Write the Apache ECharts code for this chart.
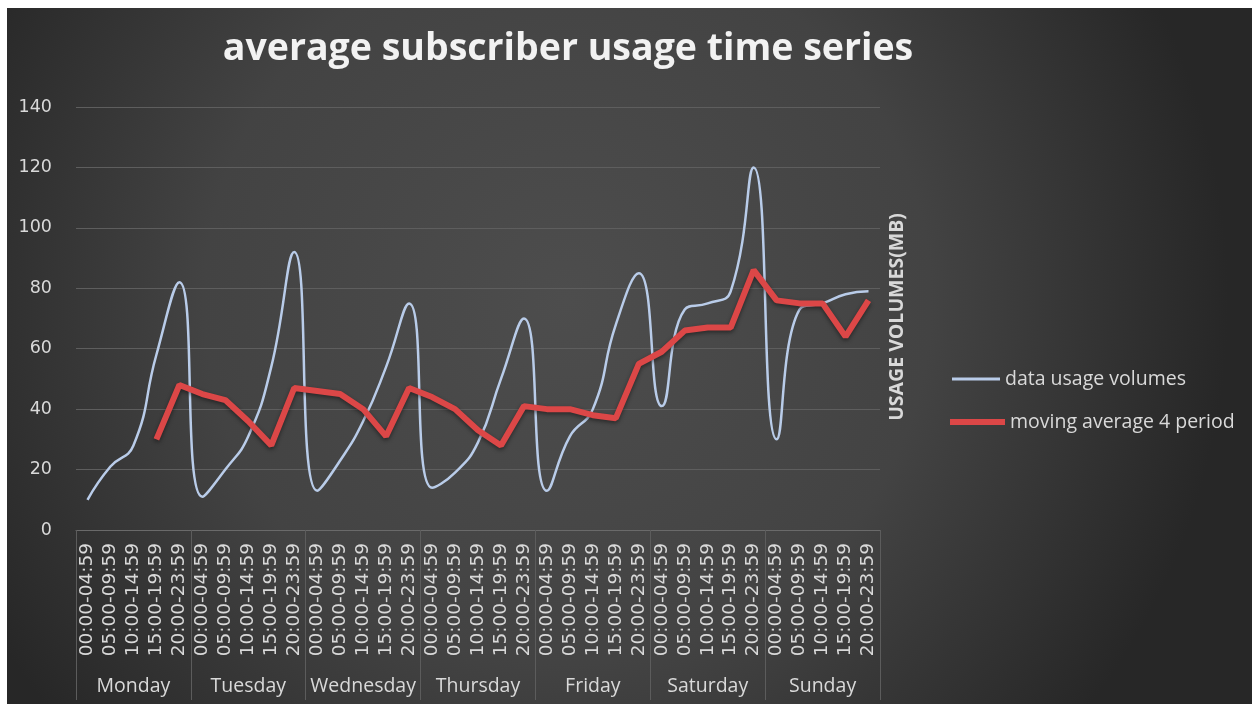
<!DOCTYPE html>
<html>
<head>
<meta charset="utf-8">
<title>average subscriber usage time series</title>
<script src="https://cdn.jsdelivr.net/npm/echarts@6/dist/echarts.min.js"></script>
<style>
  html, body { margin: 0; padding: 0; background: #ffffff; }
  #chart { position: absolute; left: 7px; top: 8px; width: 1245px; height: 696px; }
</style>
</head>
<body>
<div id="chart"></div>
<script>
// Time slots within each day and the days of the week
const timeSlots = ['00:00-04:59', '05:00-09:59', '10:00-14:59', '15:00-19:59', '20:00-23:59'];
const days = ['Monday', 'Tuesday', 'Wednesday', 'Thursday', 'Friday', 'Saturday', 'Sunday'];

// Average data usage per slot (MB)
const usageVolumes = [
  10, 21, 28, 58, 82,
  11, 20, 31, 54, 92,
  13, 23, 36, 54, 75,
  14, 19, 29, 50, 70,
  13, 31, 40, 68, 85,
  41, 73, 75, 79, 120,
  30, 73, 75, 78, 79
];

// 4-period moving average (MB), first three slots have no value
const movingAverage = [
  null, null, null, 30, 48,
  45, 43, 36, 28, 47,
  46, 45, 40, 31, 47,
  44, 40, 33, 28, 41,
  40, 40, 38, 37, 55,
  59, 66, 67, 67, 86,
  76, 75, 75, 64, 76
];

const yTicks = { min: 0, max: 140, step: 20 };

// One category per slot across the week
const slotCategories = [];
days.forEach(function () {
  timeSlots.forEach(function (t) { slotCategories.push(t); });
});

const labelColor = '#d9d9d9';
const chart = echarts.init(document.getElementById('chart'), null, { renderer: 'canvas' });

chart.setOption({
  animation: false,
  backgroundColor: new echarts.graphic.RadialGradient(0.45, 0.42, 0.95, [
    { offset: 0, color: '#4d4d4d' },
    { offset: 0.55, color: '#434343' },
    { offset: 1, color: '#272727' }
  ]),
  graphic: [
    {
      type: 'text',
      x: 561,
      y: 41,
      style: {
        text: 'average subscriber usage time series',
        fontFamily: 'Open Sans',
        fontWeight: 'bold',
        fontSize: 37.5,
        fill: '#f2f2f2',
        align: 'center',
        verticalAlign: 'middle',
        shadowColor: 'rgba(0,0,0,0.75)',
        shadowBlur: 4,
        shadowOffsetX: 1,
        shadowOffsetY: 3
      }
    },
    {
      type: 'text',
      x: 890,
      y: 309,
      rotation: Math.PI / 2,
      style: {
        text: 'USAGE VOLUMES(MB)',
        fontFamily: 'Open Sans',
        fontWeight: 'bold',
        fontSize: 19.5,
        fill: labelColor,
        align: 'center',
        verticalAlign: 'middle'
      }
    }
  ],
  legend: [
    {
      data: ['data usage volumes'],
      left: 940,
      top: 356,
      orient: 'vertical',
      icon: 'rect',
      itemWidth: 48,
      itemHeight: 3,
      textStyle: { color: labelColor, fontFamily: 'Open Sans', fontSize: 19.5, lineHeight: 20 }
    },
    {
      data: ['moving average 4 period'],
      left: 938,
      top: 399,
      orient: 'vertical',
      icon: 'rect',
      itemWidth: 55,
      itemHeight: 6,
      textStyle: { color: labelColor, fontFamily: 'Open Sans', fontSize: 19.5, lineHeight: 20 }
    }
  ],
  grid: { left: 69, top: 99, right: 372, bottom: 174, containLabel: false },
  xAxis: [
    {
      type: 'category',
      data: slotCategories,
      boundaryGap: true,
      axisLine: { show: true, lineStyle: { color: '#6a6a6a', width: 1 } },
      axisTick: { show: false },
      axisLabel: {
        interval: 0,
        rotate: 90,
        margin: 13,
        color: labelColor,
        fontFamily: 'DejaVu Sans',
        fontSize: 18.5
      },
      splitLine: { show: false }
    },
    {
      type: 'category',
      data: days,
      position: 'bottom',
      boundaryGap: true,
      axisLine: { show: false },
      axisTick: { show: true, interval: 0, length: 170, lineStyle: { color: '#5c5c5c', width: 1 } },
      axisLabel: {
        interval: 0,
        margin: 146,
        color: labelColor,
        fontFamily: 'Open Sans',
        fontSize: 19.5
      },
      splitLine: { show: false }
    }
  ],
  yAxis: {
    type: 'value',
    min: yTicks.min,
    max: yTicks.max,
    interval: yTicks.step,
    axisLine: { show: false },
    axisTick: { show: false },
    axisLabel: { color: labelColor, fontFamily: 'DejaVu Sans', fontSize: 17.5, margin: 24 },
    splitLine: { lineStyle: { color: '#5e5e5e', width: 1 } }
  },
  series: [
    {
      name: 'data usage volumes',
      type: 'line',
      data: usageVolumes,
      smooth: 0.5,
      showSymbol: false,
      color: '#b9cce9',
      lineStyle: { color: '#b9cce9', width: 2.5 },
      z: 3
    },
    {
      name: 'moving average 4 period',
      type: 'line',
      data: movingAverage,
      smooth: false,
      showSymbol: false,
      color: '#dc4747',
      lineStyle: {
        color: '#dc4747',
        width: 6,
        shadowColor: 'rgba(0,0,0,0.45)',
        shadowBlur: 4,
        shadowOffsetY: 2
      },
      z: 4
    }
  ]
});
</script>
</body>
</html>
